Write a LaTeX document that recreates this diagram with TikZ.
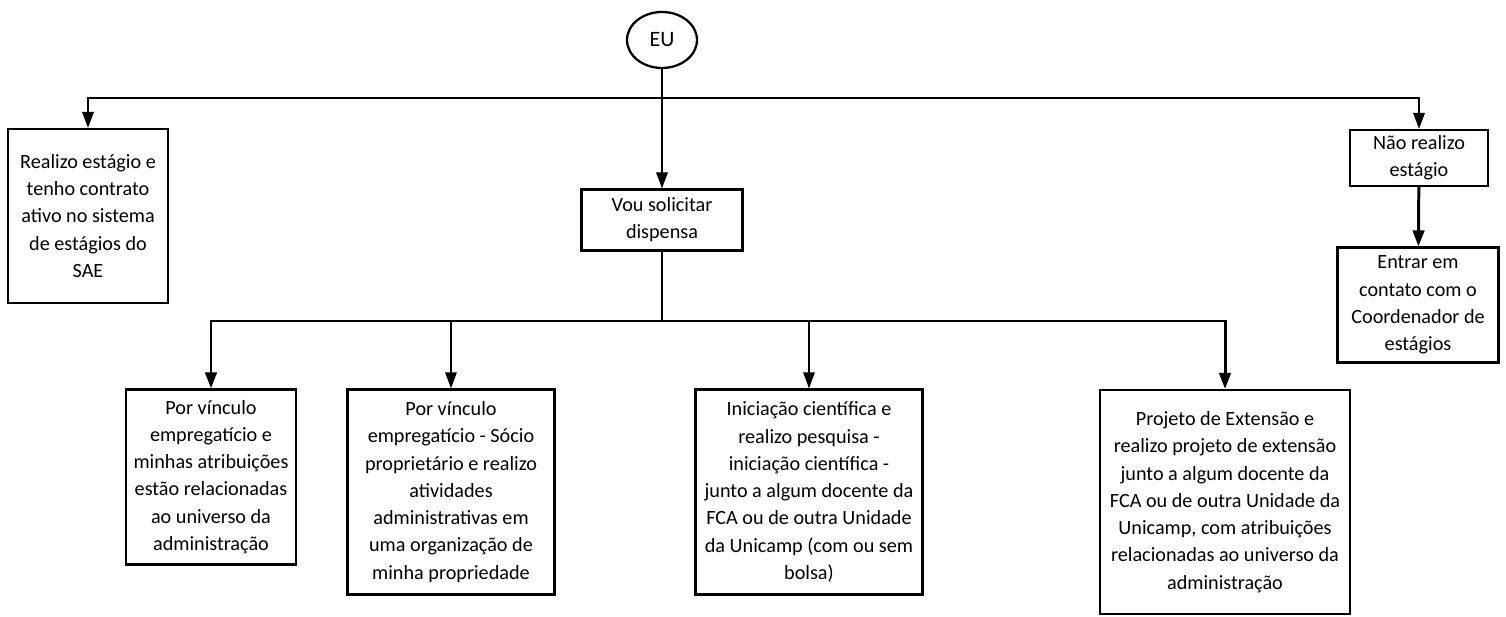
\documentclass[tikz,border=0pt]{standalone}
\usepackage{fontspec}
\setmainfont{Carlito}
\usepackage{tikz}
\usetikzlibrary{arrows.meta, shapes.geometric}

\begin{document}
\begin{tikzpicture}[x=0.02cm, y=-0.02cm,
    box/.style={draw, line width=1.3pt, align=center, inner sep=2pt,
                font=\fontsize{11.5}{15.5}\selectfont},
    link/.style={line width=1.1pt},
    arr/.style={link, -{Triangle[length=0.32cm, width=0.23cm]}},
    bold arr/.style={arr, line width=1.7pt},
]
    \useasboundingbox (0,0) rectangle (1506,617);

    \node[draw, ellipse, line width=1.3pt, minimum width=1.4cm, minimum height=1.12cm,
          font=\fontsize{12.5}{15}\selectfont] (eu) at (662,40) {EU};

    \node[box, minimum width=3.2cm, minimum height=3.48cm] (realizo) at (88,216)
        {Realizo estágio e\\tenho contrato\\ativo no sistema\\de estágios do\\SAE};
    \node[box, minimum width=3.22cm, minimum height=1.22cm] (vou) at (662,220)
        {Vou solicitar\\dispensa};
    \node[box, minimum width=2.76cm, minimum height=1.12cm] (nao) at (1419,158)
        {Não realizo\\estágio};
    \node[box, minimum width=3.22cm, minimum height=2.3cm] (entrar) at (1418,305)
        {Entrar em\\contato com o\\Coordenador de\\estágios};

    \node[box, minimum width=3.4cm, minimum height=3.5cm] (vinculo) at (211,477)
        {Por vínculo\\empregatício e\\minhas atribuições\\estão relacionadas\\ao universo da\\administração};
    \node[box, minimum width=4.14cm, minimum height=4.1cm] (socio) at (451,492)
        {Por vínculo\\empregatício - Sócio\\proprietário e realizo\\atividades\\administrativas em\\uma organização de\\minha propriedade};
    \node[box, minimum width=4.54cm, minimum height=4.1cm] (ic) at (809,492)
        {Iniciação científica e\\realizo pesquisa -\\iniciação científica -\\junto a algum docente da\\FCA ou de outra Unidade\\da Unicamp (com ou sem\\bolsa)};
    \node[box, minimum width=5cm, minimum height=4.48cm] (extensao) at (1225,502)
        {Projeto de Extensão e\\realizo projeto de extensão\\junto a algum docente da\\FCA ou de outra Unidade da\\Unicamp, com atribuições\\relacionadas ao universo da\\administração};

    \coordinate (top) at (662,98);
    \coordinate (fork) at (662,321);

    \draw[link] (eu) -- (top);
    \draw[arr] (top) -| (realizo.north);
    \draw[arr] (top) -- (vou);
    \draw[arr] (top) -| (nao.north);
    \draw[bold arr] (nao) -- (entrar);

    \draw[link] (vou) -- (fork);
    \draw[bold arr] (fork) -| (vinculo.north);
    \draw[arr, line width=0.8pt] (fork) -| (socio.north);
    \draw[arr, line width=0.8pt] (fork) -| (ic.north);
    \draw[bold arr] (fork) -| (extensao.north);
\end{tikzpicture}
\end{document}
